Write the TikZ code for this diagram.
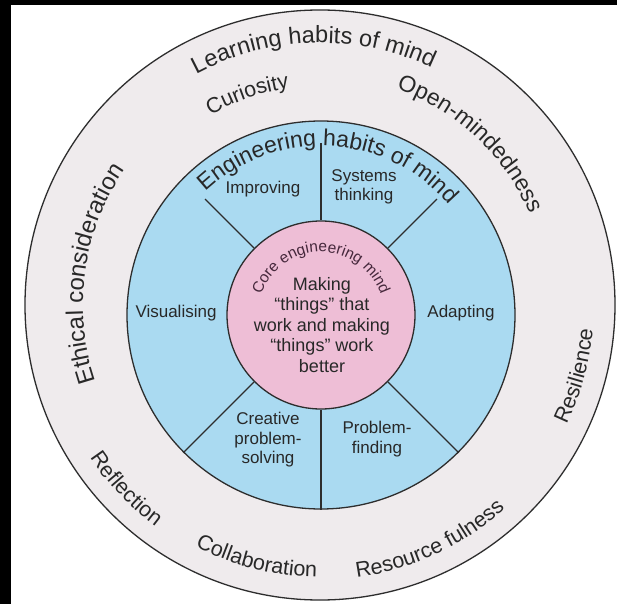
\documentclass[tikz,border=0pt]{standalone}
\usepackage{fontspec}
\setmainfont{Liberation Sans}
\usetikzlibrary{decorations.text}
\definecolor{ringc}{RGB}{239,235,237}
\definecolor{bluec}{RGB}{170,218,241}
\definecolor{pinkc}{RGB}{238,190,214}
\definecolor{linec}{RGB}{45,45,45}
\definecolor{txtc}{RGB}{40,40,40}
\definecolor{coretxt}{RGB}{70,40,60}
\newcommand\arctxt[6][txtc]{\path[decorate,decoration={text along path,text align=center,text color=#1,text={|\fontsize{#2}{#2}\selectfont|#6}}] (#4:#3) arc[start angle=#4,end angle=#5,radius=#3];}
\tikzset{
  disc/.style={circle,inner sep=0pt,fill=#1,draw=linec,line width=1.3pt},
  divider/.style={draw=linec,line width=1.1pt},
  lbl/.style={font=\fontsize{17}{19.5}\selectfont,text=txtc,align=center,inner sep=0pt},
}
\begin{document}
\begin{tikzpicture}[x=1pt,y=1pt]
\useasboundingbox (-320,-299) rectangle (297,305);
\fill[white] (-320,-299) rectangle (297,305);
\fill[black] (-320,-299) rectangle (-309,305);
\fill[black] (-320,300) rectangle (297,305);
\node[disc=ringc,minimum size=590pt] (outer) at (0,0) {};
\arctxt{23.5}{262}{151.5}{31.5}{Learning habits of mind}
\arctxt{21.5}{219}{139}{79}{Curiosity}
\arctxt{23}{229}{85}{9}{Open-mindedness}
\arctxt{24}{237}{210}{134}{Ethical consideration}
\arctxt{21.5}{276}{200}{247}{Reflection}
\arctxt{21.5}{272}{230}{282}{Collaboration}
\arctxt{21.5}{275}{270}{320}{Resource fulness}
\arctxt{21.5}{274}{-35}{4}{Resilience}
\begin{scope}[shift={(1,-10)}]
\node[disc=bluec,minimum size=388pt] (blue) at (0,0) {};
\coordinate (t90) at (90:172);
\coordinate (t45) at (45:164);
\coordinate (t135) at (135:164);
\node[disc=pinkc,minimum size=188pt] (pink) at (0,0) {};
\draw[divider] (t90) -- (pink.90);
\draw[divider] (t45) -- (pink.45);
\draw[divider] (t135) -- (pink.135);
\draw[divider] (blue.270) -- (pink.270);
\draw[divider] (blue.225) -- (pink.225);
\draw[divider] (blue.315) -- (pink.315);
\node[lbl] (improving) at (-58,126) {Improving};
\node[lbl] (systems) at (43,128) {Systems\\thinking};
\node[lbl] (visual) at (-145,2) {Visualising};
\node[lbl] (adapt) at (140,2) {Adapting};
\node[lbl] (creative) at (-53,-125) {Creative\\problem-\\solving};
\node[lbl] (probfind) at (56,-124) {Problem-\\finding};
\node[lbl,font=\fontsize{18}{20.5}\selectfont] (core) at (1,-10) {Making\\“things” that\\work and making\\“things” work\\better};
\arctxt{23}{169}{149}{25}{Engineering habits of mind}
\arctxt[coretxt]{15.5}{63}{175}{5}{Core engineering mind}
\end{scope}
\end{tikzpicture}
\end{document}
